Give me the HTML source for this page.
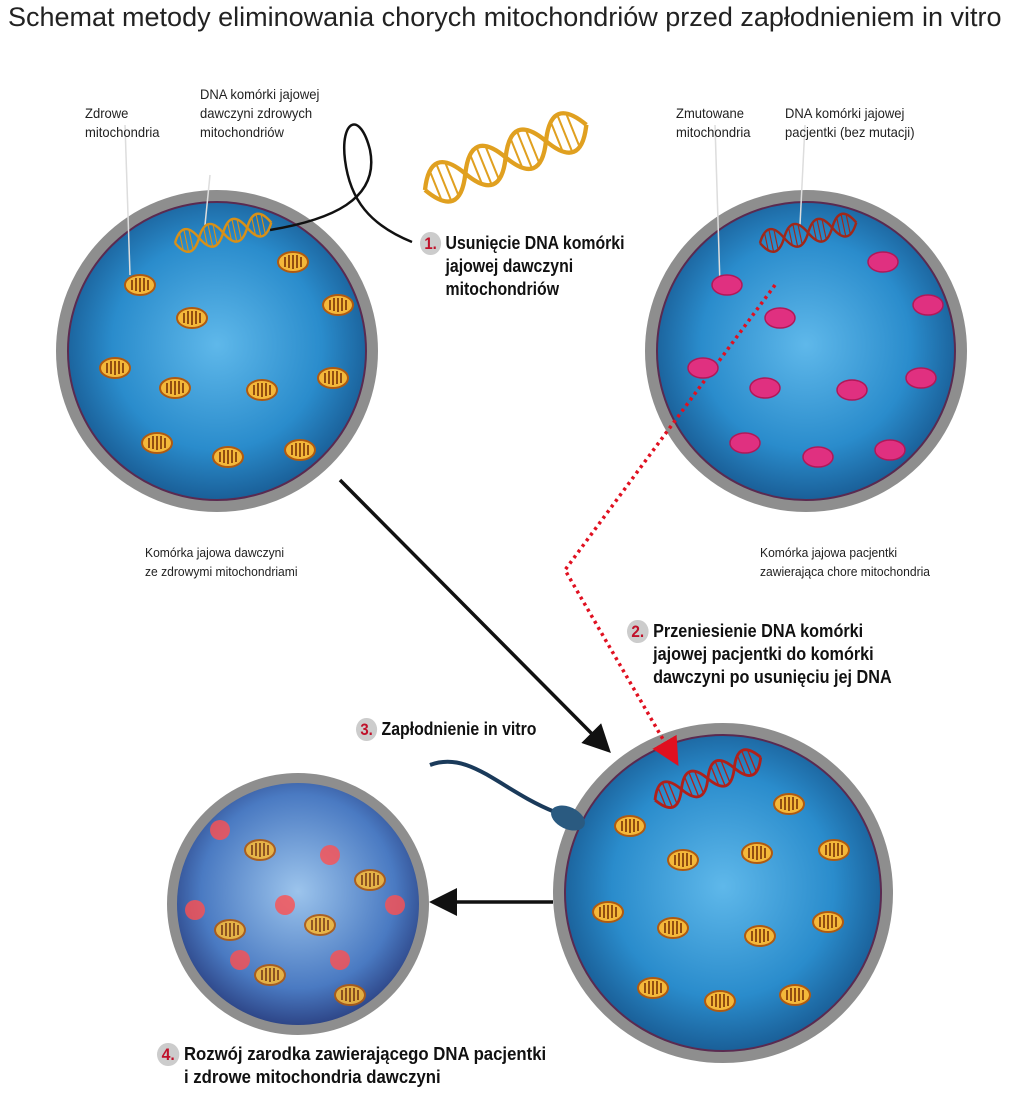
<!DOCTYPE html>
<html><head><meta charset="utf-8"><style>
body{margin:0;width:1024px;height:1095px;background:#fff;overflow:hidden;position:relative;font-family:"Liberation Sans",sans-serif}
.t{position:absolute;white-space:nowrap}
.sm{font-size:14px;line-height:19px;color:#222;transform:scaleX(0.93);transform-origin:0 0}
.bd{font-weight:bold;font-size:18px;line-height:23px;color:#111;transform:scaleX(0.88);transform-origin:0 0}
.n{display:inline-block;width:24px;height:23px;border-radius:12px;background:#ccc;color:#c0112a;text-align:center;font-size:17px;line-height:23px;margin-right:5px}
.in{margin-left:29px}
</style></head><body>
<div class="t" style="left:8px;top:2px;font-size:27px;color:#222">Schemat metody eliminowania chorych mitochondriów przed zapłodnieniem in vitro</div>
<svg width="1024" height="1095" style="position:absolute;left:0;top:0">
<defs>
<radialGradient id="b" cx="50%" cy="48%" r="52%"><stop offset="0" stop-color="#5fb8ea"/><stop offset="0.65" stop-color="#2a8ccc"/><stop offset="1" stop-color="#185a92"/></radialGradient>
<radialGradient id="b4" cx="50%" cy="45%" r="55%"><stop offset="0" stop-color="#9cc4ec"/><stop offset="0.7" stop-color="#4a7ac2"/><stop offset="1" stop-color="#2a3f80"/></radialGradient>
<g id="m"><ellipse rx="15" ry="10" fill="#f4b83a" stroke="#b05a10" stroke-width="2"/><path d="M-8 -5v10M-4 -7v13M0 -7v14M4 -7v13M8 -5v10" stroke="#7a3206" stroke-width="1.6"/></g>
<g id="r"><ellipse rx="15" ry="10" fill="#e03080" stroke="#b01858" stroke-width="1.5"/></g>
<g id="h">
<path d="M0 0 Q15 -28 30 0 Q45 28 60 0 Q75 -28 90 0 Q105 28 120 0" fill="none" stroke-width="3"/>
<path d="M0 0 Q15 28 30 0 Q45 -28 60 0 Q75 28 90 0 Q105 -28 120 0" fill="none" stroke-width="3"/>
<path d="M8 -10v20M14 -14v28M20 -12v24M38 -10v20M44 -14v28M50 -12v24M68 -10v20M74 -14v28M80 -12v24M98 -10v20M104 -14v28M110 -12v24" stroke-width="1.4"/>
</g>
<marker id="ah" markerWidth="8" markerHeight="8" refX="6" refY="4" orient="auto"><path d="M0 0L8 4L0 8z" fill="#111"/></marker>
<marker id="ar" markerWidth="8" markerHeight="8" refX="6" refY="4" orient="auto"><path d="M0 0L8 4L0 8z" fill="#e01020"/></marker>
</defs>
<circle cx="217" cy="351" r="155" fill="url(#b)" stroke="#8e8e8e" stroke-width="12"/>
<circle cx="217" cy="351" r="149" fill="none" stroke="#5a2a50" stroke-width="2"/>
<circle cx="806" cy="351" r="155" fill="url(#b)" stroke="#8e8e8e" stroke-width="12"/>
<circle cx="806" cy="351" r="149" fill="none" stroke="#5a2a50" stroke-width="2"/>
<circle cx="723" cy="893" r="164" fill="url(#b)" stroke="#8e8e8e" stroke-width="12"/>
<circle cx="723" cy="893" r="158" fill="none" stroke="#5a2a50" stroke-width="2"/>
<circle cx="298" cy="904" r="126" fill="url(#b4)" stroke="#8e8e8e" stroke-width="10"/>
<line x1="210" y1="175" x2="205" y2="225" stroke="#ddd" stroke-width="1.5"/>
<line x1="125" y1="125" x2="130" y2="275" stroke="#ddd" stroke-width="1.5"/>
<line x1="715" y1="125" x2="720" y2="285" stroke="#ddd" stroke-width="1.5"/>
<line x1="805" y1="125" x2="800" y2="225" stroke="#ddd" stroke-width="1.5"/>
<path d="M270 230 C330 220 380 200 370 150 C360 110 340 120 345 160 C350 200 370 225 412 242" fill="none" stroke="#111" stroke-width="2.5"/>
<line x1="340" y1="480" x2="606" y2="748" stroke="#111" stroke-width="3.5" marker-end="url(#ah)"/>
<polyline points="775,285 565,570 675,760" fill="none" stroke="#e01020" stroke-width="3.5" stroke-dasharray="3 4" marker-end="url(#ar)"/>
<line x1="553" y1="902" x2="436" y2="902" stroke="#111" stroke-width="3.5" marker-end="url(#ah)"/>
<use href="#h" transform="translate(175,243) rotate(-12) scale(0.82)" stroke="#d89018"/>
<use href="#h" transform="translate(425,190) rotate(-22) scale(1.45)" stroke="#e0a020"/>
<use href="#h" transform="translate(760,243) rotate(-12) scale(0.82)" stroke="#a0281a"/>
<use href="#h" transform="translate(655,800) rotate(-22) scale(0.95)" stroke="#b0201a"/>
<path d="M430 765 C470 750 500 790 555 812" fill="none" stroke="#1a3a5a" stroke-width="4"/>
<ellipse cx="568" cy="818" rx="18" ry="11" fill="#2a5a80" transform="rotate(25 568 818)"/>
<use href="#m" x="140" y="285"/><use href="#m" x="192" y="318"/><use href="#m" x="293" y="262"/><use href="#m" x="338" y="305"/><use href="#m" x="115" y="368"/><use href="#m" x="175" y="388"/><use href="#m" x="262" y="390"/><use href="#m" x="333" y="378"/><use href="#m" x="157" y="443"/><use href="#m" x="228" y="457"/><use href="#m" x="300" y="450"/>
<use href="#r" x="727" y="285"/><use href="#r" x="780" y="318"/><use href="#r" x="883" y="262"/><use href="#r" x="928" y="305"/><use href="#r" x="703" y="368"/><use href="#r" x="765" y="388"/><use href="#r" x="852" y="390"/><use href="#r" x="921" y="378"/><use href="#r" x="745" y="443"/><use href="#r" x="818" y="457"/><use href="#r" x="890" y="450"/>
<use href="#m" x="630" y="826"/><use href="#m" x="683" y="860"/><use href="#m" x="757" y="853"/><use href="#m" x="789" y="804"/><use href="#m" x="834" y="850"/><use href="#m" x="608" y="912"/><use href="#m" x="673" y="928"/><use href="#m" x="760" y="936"/><use href="#m" x="828" y="922"/><use href="#m" x="653" y="988"/><use href="#m" x="720" y="1001"/><use href="#m" x="795" y="995"/>
<g fill="#ff5050" opacity="0.8"><circle cx="220" cy="830" r="10"/><circle cx="330" cy="855" r="10"/><circle cx="195" cy="910" r="10"/><circle cx="285" cy="905" r="10"/><circle cx="395" cy="905" r="10"/><circle cx="340" cy="960" r="10"/><circle cx="240" cy="960" r="10"/></g>
<g opacity="0.9"><use href="#m" x="260" y="850"/><use href="#m" x="370" y="880"/><use href="#m" x="230" y="930"/><use href="#m" x="320" y="925"/><use href="#m" x="270" y="975"/><use href="#m" x="350" y="995"/></g>
</svg>
<div class="t sm" style="left:85px;top:104px">Zdrowe<br>mitochondria</div>
<div class="t sm" style="left:200px;top:85px">DNA komórki jajowej<br>dawczyni zdrowych<br>mitochondriów</div>
<div class="t sm" style="left:676px;top:104px">Zmutowane<br>mitochondria</div>
<div class="t sm" style="left:785px;top:104px">DNA komórki jajowej<br>pacjentki (bez mutacji)</div>
<div class="t sm" style="left:145px;top:543px;font-size:13px">Komórka jajowa dawczyni<br>ze zdrowymi mitochondriami</div>
<div class="t sm" style="left:760px;top:543px;font-size:13px">Komórka jajowa pacjentki<br>zawierająca chore mitochondria</div>
<div class="t bd" style="left:420px;top:232px"><span class="n">1.</span>Usunięcie DNA komórki<br><span class="in">jajowej dawczyni</span><br><span class="in">mitochondriów</span></div>
<div class="t bd" style="left:627px;top:620px;transform:scaleX(0.9)"><span class="n">2.</span>Przeniesienie DNA komórki<br><span class="in">jajowej pacjentki do komórki</span><br><span class="in">dawczyni po usunięciu jej DNA</span></div>
<div class="t bd" style="left:356px;top:718px"><span class="n">3.</span>Zapłodnienie in vitro</div>
<div class="t bd" style="left:157px;top:1043px;transform:scaleX(0.93)"><span class="n">4.</span>Rozwój zarodka zawierającego DNA pacjentki<br><span class="in">i zdrowe mitochondria dawczyni</span></div>
</body></html>
